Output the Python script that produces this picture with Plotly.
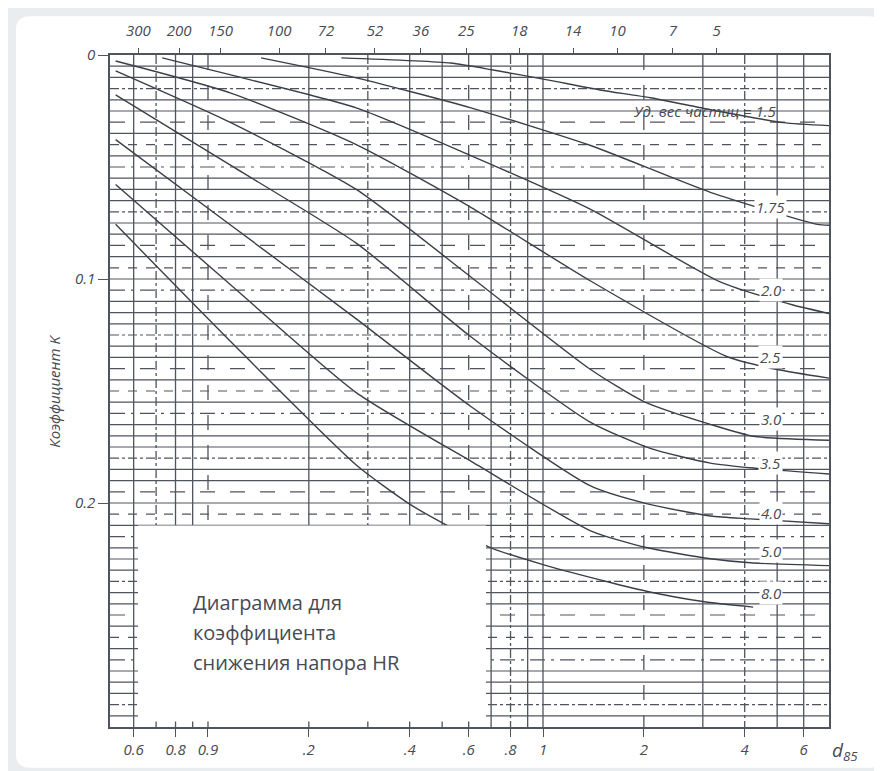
import plotly.graph_objects as go

# d85 (bottom axis) vs coefficient K, one curve per specific gravity
d_15 = [0.25, 0.53, 0.71, 1.03, 1.48, 2.09, 3.16, 5.21, 7.25]
k_15 = [0.0013, 0.0036, 0.0067, 0.0111, 0.0156, 0.0191, 0.0244, 0.0302, 0.0316]

d_175 = [0.144, 0.277, 0.609, 1.387, 3.16, 6.59, 7.25]
k_175 = [0.0013, 0.0102, 0.0236, 0.0404, 0.0613, 0.0756, 0.076]

d_20 = [0.073, 0.117, 0.277, 0.609, 1.387, 3.38, 5.58, 7.25]
k_20 = [0.0013, 0.0089, 0.0236, 0.0449, 0.0689, 0.1013, 0.1116, 0.1156]

d_25 = [0.053, 0.117, 0.277, 0.609, 1.387, 3.55, 5.0, 7.25]
k_25 = [0.0027, 0.017, 0.040, 0.068, 0.1009, 0.1347, 0.1404, 0.1444]

d_30 = [0.053, 0.117, 0.277, 0.609, 1.387, 2.0, 3.16, 4.24, 7.25]
k_30 = [0.0071, 0.0302, 0.060, 0.0991, 0.1404, 0.1547, 0.1649, 0.1702, 0.172]

d_35 = [0.053, 0.117, 0.277, 0.609, 1.387, 2.09, 3.16, 4.24, 7.25]
k_35 = [0.0178, 0.0493, 0.084, 0.1258, 0.164, 0.1756, 0.1822, 0.1844, 0.1871]

d_40 = [0.053, 0.117, 0.277, 0.609, 1.387, 2.05, 3.16, 4.16, 7.25]
k_40 = [0.0378, 0.076, 0.1178, 0.1569, 0.1924, 0.2004, 0.2058, 0.2071, 0.2093]

d_50 = [0.053, 0.117, 0.277, 0.609, 1.387, 2.05, 3.16, 4.16, 7.25]
k_50 = [0.0578, 0.1027, 0.1507, 0.1813, 0.2124, 0.22, 0.2249, 0.2267, 0.228]

d_80 = [0.053, 0.117, 0.277, 0.40, 0.52, 0.70, 1.0, 1.59, 2.05, 3.0, 4.24]
k_80 = [0.0756, 0.128, 0.183, 0.2005, 0.2102, 0.220, 0.2275, 0.2355, 0.2395, 0.244, 0.2465]

# curve labels on the right side
label_text = ["1.75", "2.0", "2.5", "3.0", "3.5", "4.0", "5.0", "8.0"]
label_k = [0.068, 0.1049, 0.1347, 0.1627, 0.1822, 0.2044, 0.2213, 0.24]

# bottom axis (labels as printed on the original)
bottom_vals = [0.06, 0.08, 0.1, 0.2, 0.4, 0.6, 0.8, 1, 2, 4, 6]
bottom_text = ["0.6", "0.8", "0.9", ".2", ".4", ".6", ".8", "1", "2", "4", "6"]

# top axis: sieve mesh numbers
mesh_vals = [0.062, 0.082, 0.109, 0.163, 0.225, 0.315, 0.432, 0.59, 0.85, 1.23, 1.67, 2.44, 3.3]
mesh_text = ["300", "200", "150", "100", "72", "52", "36", "25", "18", "14", "10", "7", "5"]

k_vals = [0, 0.1, 0.2]
k_text = ["0", "0.1", "0.2"]

# grid
grid_d = [0.06, 0.07, 0.08, 0.09, 0.1, 0.2, 0.3, 0.4, 0.5, 0.6, 0.7, 0.8, 0.9, 1, 2, 3, 4, 5, 6]
grid_k = [round(i * 0.005, 3) for i in range(1, 60)]

INK = "#474b54"
LINE = "#50545c"
FONT = "Open Sans"
X_RANGE = [-1.2925, 0.8537]
Y_RANGE = [0.3, 0]

fig = go.Figure()

# horizontal grid lines, scanned look: mostly solid, some broken
h_styles = ["solid", "solid", "dashdot", "solid", "solid", "longdash",
            "solid", "dash", "solid", "longdashdot", "solid"]
for style in set(h_styles):
    xs, ys = [], []
    for i, k in enumerate(grid_k):
        if h_styles[i % len(h_styles)] == style:
            xs += [10 ** X_RANGE[0], 10 ** X_RANGE[1], None]
            ys += [k, k, None]
    fig.add_trace(go.Scatter(
        x=xs, y=ys, mode="lines",
        line=dict(color=LINE, width=1.2, dash=style),
        hoverinfo="skip", showlegend=False,
    ))

v_styles = ["solid", "dashdot", "solid", "solid", "longdash"]
for style in set(v_styles):
    xs, ys = [], []
    for i, d in enumerate(grid_d):
        if v_styles[i % len(v_styles)] == style:
            xs += [d, d, None]
            ys += [0, 0.3, None]
    fig.add_trace(go.Scatter(
        x=xs, y=ys, mode="lines",
        line=dict(color=LINE, width=1.3, dash=style),
        hoverinfo="skip", showlegend=False,
    ))

curves = [
    (d_15, k_15), (d_175, k_175), (d_20, k_20), (d_25, k_25), (d_30, k_30),
    (d_35, k_35), (d_40, k_40), (d_50, k_50), (d_80, k_80),
]
for d, k in curves:
    fig.add_trace(go.Scatter(
        x=d, y=k, mode="lines",
        line=dict(color="#3b3f47", width=1.4, shape="spline", smoothing=0.6),
        hoverinfo="skip", showlegend=False,
    ))

# dummy trace so the top axis is drawn
fig.add_trace(go.Scatter(
    x=mesh_vals, y=[0] * len(mesh_vals), xaxis="x2", mode="markers",
    marker=dict(opacity=0), hoverinfo="skip", showlegend=False,
))

for text, k in zip(label_text, label_k):
    fig.add_annotation(
        x=0.68, y=k, text=text, showarrow=False,
        font=dict(family=FONT, size=15, color=INK, style="italic"),
        bgcolor="white",
    )
fig.add_annotation(
    x=0.4836, y=0.0249, text="Уд. вес частиц = 1.5", showarrow=False,
    font=dict(family=FONT, size=15, color=INK, style="italic"),
)

box_lines = ["Диаграмма для", "коэффициента", "снижения напора HR"]
box_k = [0.2444, 0.2578, 0.2711]
for text, k in zip(box_lines, box_k):
    fig.add_annotation(
        x=-1.05, y=k, text=text, showarrow=False, xanchor="left",
        font=dict(family=FONT, size=20, color=INK),
    )

fig.add_annotation(
    xref="paper", yref="paper", x=-0.095, y=0.5, text="Коэффициент K",
    textangle=-90, showarrow=False,
    font=dict(family=FONT, size=15, color=INK, style="italic"),
)
fig.add_annotation(
    xref="paper", yref="paper", x=1.043, y=-0.036, text="d<sub>85</sub>",
    showarrow=False, yanchor="middle",
    font=dict(family=FONT, size=19, color=INK, style="italic"),
)

# rounded card on a grey page
x0, x1, y0, y1 = -0.1307, 1.0737, -0.0607, 1.0578
rx, ry = 0.0195, 0.0207
card = (
    f"M {x0 + rx},{y1} L {x1 - rx},{y1} Q {x1},{y1} {x1},{y1 - ry} "
    f"L {x1},{y0 + ry} Q {x1},{y0} {x1 - rx},{y0} L {x0 + rx},{y0} "
    f"Q {x0},{y0} {x0},{y0 + ry} L {x0},{y1 - ry} Q {x0},{y1} {x0 + rx},{y1} Z"
)
fig.add_shape(type="path", path=card, xref="paper", yref="paper",
              fillcolor="white", line=dict(width=0), layer="below")

# blank panel holding the caption
fig.add_shape(type="rect", x0=0.0618, x1=0.676, y0=0.210, y1=0.2975,
              fillcolor="white", line=dict(width=0), layer="above")

tick_font = dict(family=FONT, size=15, color=INK, style="italic")

fig.update_layout(
    width=882, height=771,
    margin=dict(l=102, r=61, t=45, b=52),
    paper_bgcolor="#e9edf0",
    plot_bgcolor="white",
    showlegend=False,
    xaxis=dict(
        type="log", range=X_RANGE, tickvals=bottom_vals, ticktext=bottom_text,
        ticks="outside", ticklen=8, tickcolor=LINE, tickfont=tick_font,
        showgrid=False, zeroline=False, showline=True, linecolor=LINE,
        linewidth=1.5, mirror=True,
    ),
    xaxis2=dict(
        type="log", range=X_RANGE, overlaying="x", side="top",
        tickvals=mesh_vals, ticktext=mesh_text, ticks="outside", ticklen=6,
        ticklabelstandoff=6,
        tickcolor=LINE, tickfont=tick_font, showgrid=False, zeroline=False,
        showline=False,
    ),
    yaxis=dict(
        range=Y_RANGE, tickvals=k_vals, ticktext=k_text, ticks="outside",
        ticklen=10, tickcolor=LINE, tickfont=tick_font, showgrid=False,
        zeroline=False, showline=True, linecolor=LINE, linewidth=1.5,
        mirror=True,
    ),
)

fig.write_html("out.html")
